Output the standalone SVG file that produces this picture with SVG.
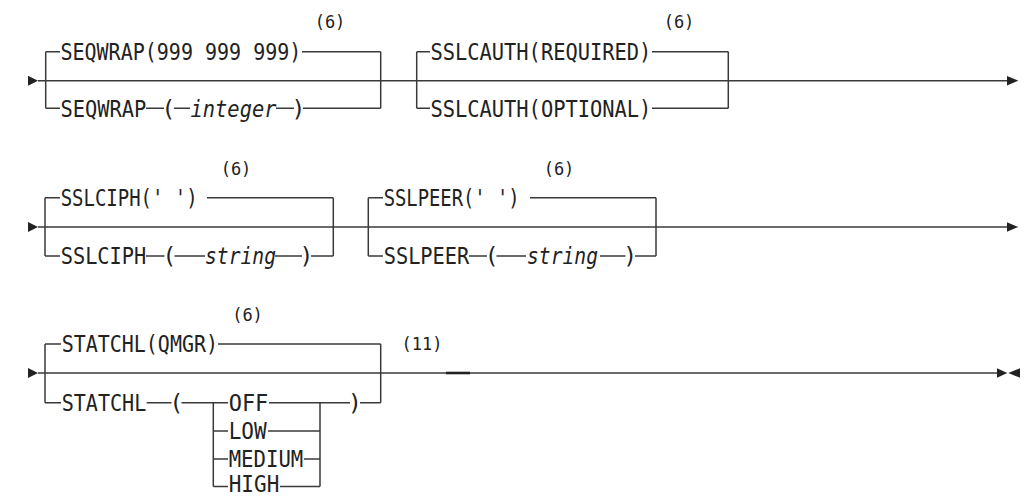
<svg xmlns="http://www.w3.org/2000/svg" width="1024" height="498" viewBox="0 0 1024 498">
<style>
.t{font-family:"DejaVu Sans Mono","Liberation Mono",monospace;font-size:23px;fill:#222}
.i{font-style:italic}
.c{text-anchor:middle}
.n{font-family:"DejaVu Sans Mono","Liberation Mono",monospace;font-size:17px;fill:#222;text-anchor:middle}
.l{stroke:#3a3a3a;stroke-width:1.5;fill:none}
.a{fill:#222}
</style>
<rect width="1024" height="498" fill="#fff"/>
<g id="connectors">
  <!-- row 1 -->
  <path class="l" d="M38,80.7H1007"/>
  <polygon class="a" points="28,75.7 38,80.7 28,85.7"/>
  <polygon class="a" points="1007,76 1018.3,80.7 1007,85.4"/>
  <path class="l" d="M45.7,51.7V108.3M380.7,51.7V108.3M45.7,51.7H60M302,51.7H380.7M45.7,108.3H60M146,108.3H164M174,108.3H190M276,108.3H294M303,108.3H380.7"/>
  <path class="l" d="M416.7,51.7V108.3M728.3,51.7V108.3M416.7,51.7H430M652,51.7H728.3M416.7,108.3H430M652,108.3H728.3"/>
  <!-- row 2 -->
  <path class="l" d="M38,227H1007"/>
  <polygon class="a" points="28,222 38,227 28,232"/>
  <polygon class="a" points="1007,222.3 1018.3,227 1007,231.7"/>
  <path class="l" d="M45,197.8V256M333.3,197.8V256M45,197.8H60M207,197.8H333.3M45,256H60M146,256H164.5M174.5,256H205M275,256H302M311,256H333.3"/>
  <path class="l" d="M368.3,197.8V256M656,197.8V256M368.3,197.8H383M530,197.8H656M368.3,256H383M469,256H487M496.5,256H526M600,256H625.5M635,256H656"/>
  <!-- row 3 -->
  <path class="l" d="M38,373H997"/>
  <path d="M446,373H470" stroke="#222" stroke-width="2.6"/>
  <polygon class="a" points="28,368 38,373 28,378"/>
  <polygon class="a" points="997,368.3 1007.3,373 997,377.7"/>
  <polygon class="a" points="1020,368.3 1008.3,373 1020,377.7"/>
  <path class="l" d="M45,344V402.7M380.7,344V402.7M45,344H61M218,344H380.7M45,402.7H61M146.7,402.7H171.5M181.5,402.7H228M269,402.7H350M360,402.7H380.7"/>
  <path class="l" d="M213.3,402.7V486.5M320,402.7V486.5M213.3,431H228M268,431H320M213.3,459H228M304,459H320M213.3,486.5H228M280,486.5H320"/>
</g>
<g id="seqwrap-default"><text class="t" x="60.4" y="60.1" textLength="241" lengthAdjust="spacingAndGlyphs">SEQWRAP(999 999 999)</text></g>
<g id="seqwrap-integer">
  <text class="t" x="60.4" y="116.7" textLength="86" lengthAdjust="spacingAndGlyphs">SEQWRAP</text>
  <text class="t c" x="168.5" y="116.7">(</text>
  <text class="t i" x="190.5" y="116.7" textLength="86" lengthAdjust="spacingAndGlyphs">integer</text>
  <text class="t c" x="298.5" y="116.7">)</text>
</g>
<g id="note-6-seqwrap"><text class="n" x="330" y="27.8">(6)</text></g>
<g id="sslcauth-required"><text class="t" x="430.4" y="60.1" textLength="221" lengthAdjust="spacingAndGlyphs">SSLCAUTH(REQUIRED)</text></g>
<g id="sslcauth-optional"><text class="t" x="430.4" y="116.7" textLength="221" lengthAdjust="spacingAndGlyphs">SSLCAUTH(OPTIONAL)</text></g>
<g id="note-6-sslcauth"><text class="n" x="679" y="27.8">(6)</text></g>

<g id="sslciph-default"><text class="t" x="60.7" y="206.2" textLength="137" lengthAdjust="spacingAndGlyphs">SSLCIPH(' ')</text></g>
<g id="sslciph-string">
  <text class="t" x="60.7" y="264.4" textLength="85.6" lengthAdjust="spacingAndGlyphs">SSLCIPH</text>
  <text class="t c" x="169.5" y="264.4">(</text>
  <text class="t i" x="205" y="264.4" textLength="71" lengthAdjust="spacingAndGlyphs">string</text>
  <text class="t c" x="306.5" y="264.4">)</text>
</g>
<g id="note-6-sslciph"><text class="n" x="236" y="174.8">(6)</text></g>
<g id="sslpeer-default"><text class="t" x="383.7" y="206.2" textLength="136" lengthAdjust="spacingAndGlyphs">SSLPEER(' ')</text></g>
<g id="sslpeer-string">
  <text class="t" x="383.7" y="264.4" textLength="85.6" lengthAdjust="spacingAndGlyphs">SSLPEER</text>
  <text class="t c" x="491.7" y="264.4">(</text>
  <text class="t i" x="527" y="264.4" textLength="71" lengthAdjust="spacingAndGlyphs">string</text>
  <text class="t c" x="630.3" y="264.4">)</text>
</g>
<g id="note-6-sslpeer"><text class="n" x="559" y="174.8">(6)</text></g>

<g id="statchl-default"><text class="t" x="61.7" y="352.4" textLength="156.3" lengthAdjust="spacingAndGlyphs">STATCHL(QMGR)</text></g>
<g id="statchl-value">
  <text class="t" x="61.7" y="411.1" textLength="84.6" lengthAdjust="spacingAndGlyphs">STATCHL</text>
  <text class="t c" x="176.5" y="411.1">(</text>
  <text class="t c" x="355" y="411.1">)</text>
</g>
<g id="statchl-off"><text class="t" x="228.7" y="411.1" textLength="39.6" lengthAdjust="spacingAndGlyphs">OFF</text></g>
<g id="statchl-low"><text class="t" x="228.7" y="439.4" textLength="38" lengthAdjust="spacingAndGlyphs">LOW</text></g>
<g id="statchl-medium"><text class="t" x="228.7" y="467.4" textLength="74.6" lengthAdjust="spacingAndGlyphs">MEDIUM</text></g>
<g id="statchl-high"><text class="t" x="228.7" y="492.3" textLength="50.6" lengthAdjust="spacingAndGlyphs">HIGH</text></g>
<g id="note-6-statchl"><text class="n" x="247.5" y="320.8">(6)</text></g>
<g id="note-11"><text class="n" x="422" y="350">(11)</text></g>
</svg>
